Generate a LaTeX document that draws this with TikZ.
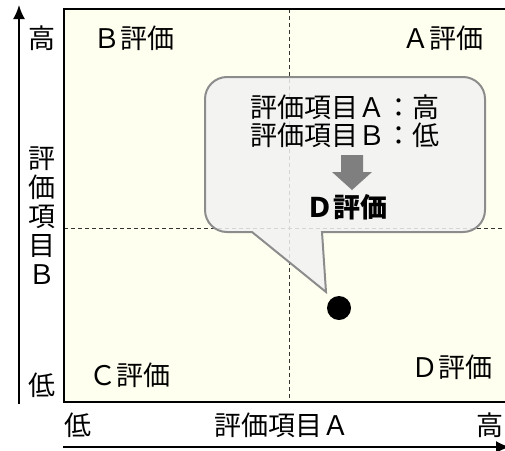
\documentclass[tikz,border=0pt]{standalone}
\usepackage{fontspec}
\setmainfont{Noto Sans CJK JP}
\tikzset{>=stealth}
\usetikzlibrary{positioning,arrows.meta}
\definecolor{paper}{HTML}{FFFFF0}
\colorlet{penColor}{black}
\definecolor{bubbleFill}{HTML}{F2F2F2}
\definecolor{bubbleLine}{HTML}{8C8C8C}
\definecolor{arrowGray}{HTML}{7F7F7F}
\tikzset{
  txt/.style={font=\fontsize{27}{29}\selectfont, inner sep=0pt},
  axis/.style={line width=2pt, penColor, -{Latex[length=14pt,width=12pt]}},
  grid/.style={line width=1pt, black!80, dash pattern=on 4pt off 3pt},
}
\begin{document}
\begin{tikzpicture}[x=1pt,y=-1pt]
\useasboundingbox (0,0) rectangle (505,450);
% chart area
\fill[paper] (64,9) rectangle (520,402);
\draw[grid] (289,9) -- (289,402);% vertical split
\draw[grid] (64,228) -- (520,228);% horizontal split
\draw[line width=2pt] (520,9) -- (64,9) -- (64,402) -- (520,402);
% axes
\coordinate (yfoot) at (19,404);
\coordinate (yhead) at (19,5);
\coordinate (xfoot) at (63,447);
\coordinate (xhead) at (510,447);
\draw[axis] (yfoot) -- (yhead);
\draw[axis] (xfoot) -- (xhead);
\node[txt] (yhigh) at (42,38) {高};
\node[txt,align=center] (ylabel) at (42,216) {評\\価\\項\\目\\Ｂ};
\node[txt] (ylow) at (42,385) {低};
\node[txt] (xlow) at (78,425) {低};
\node[txt] (xlabel) at (282,425) {評価項目Ａ};
\node[txt] (xhigh) at (490,425) {高};
% quadrants
\node[txt] (rankB) at (134,38) {Ｂ評価};
\node[txt] (rankA) at (443,38) {Ａ評価};
\node[txt] (rankC) at (130,375) {Ｃ評価};
\node[txt] (rankD) at (452,367) {Ｄ評価};
% callout
\draw[line width=2pt, bubbleLine, fill=bubbleFill, fill opacity=.85]
  (252,232) [rounded corners=22pt] -- (205,232) -- (205,77) -- (485,77) -- (485,232) [sharp corners] -- (322,232) -- (326,292) -- cycle;
\node[txt] (lineA) at (345,107) {評価項目Ａ：高};
\node[txt] (lineB) at (345,135) {評価項目Ｂ：低};
\fill[arrowGray] (341,155) -- (363,155) -- (363,172) -- (372,172) -- (352,190) -- (332,172) -- (341,172) -- cycle;
\node[txt,font=\fontsize{27}{29}\selectfont\bfseries] (result) at (347,207) {Ｄ評価};
\fill[black] (339,308) circle (12);
\end{tikzpicture}
\end{document}
